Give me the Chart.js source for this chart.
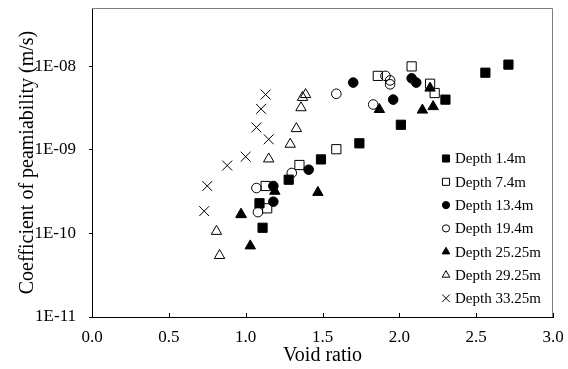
<!DOCTYPE html>
<html>
<head>
<meta charset="utf-8">
<script src="https://cdn.jsdelivr.net/npm/chart.js@4/dist/chart.umd.min.js"></script>
<style>
  html, body { margin: 0; padding: 0; background: #fff; }
  #wrap { width: 568px; height: 369px; }
</style>
</head>
<body>
<div id="wrap"><canvas id="chart" width="568" height="369"></canvas></div>
<script>
// === data ===
const seriesNames = ['Depth 1.4m', 'Depth 7.4m', 'Depth 13.4m', 'Depth 19.4m', 'Depth 25.25m', 'Depth 29.25m', 'Depth 33.25m'];

const d14X = [1.09, 1.11, 1.28, 1.49, 1.74, 2.01, 2.30, 2.56, 2.71];
const d14Y = [2.3e-10, 1.17e-10, 4.4e-10, 7.7e-10, 1.2e-9, 2.0e-9, 4.0e-9, 8.4e-9, 1.05e-8];

const d74X = [1.13, 1.14, 1.35, 1.59, 1.86, 2.08, 2.20, 2.23];
const d74Y = [3.7e-10, 2.0e-10, 6.6e-10, 1.02e-9, 7.7e-9, 1.0e-8, 6.2e-9, 4.8e-9];

const d134X = [1.18, 1.18, 1.41, 1.70, 1.96, 2.08, 2.11];
const d134Y = [3.7e-10, 2.4e-10, 5.8e-10, 6.4e-9, 4.0e-9, 7.2e-9, 6.4e-9];

const d194X = [1.07, 1.08, 1.30, 1.59, 1.83, 1.91, 1.94, 1.94];
const d194Y = [3.5e-10, 1.8e-10, 5.3e-10, 4.7e-9, 3.5e-9, 7.7e-9, 6.8e-9, 6.1e-9];

const d2525X = [0.97, 1.03, 1.19, 1.47, 1.87, 2.15, 2.22, 2.20];
const d2525Y = [1.68e-10, 7.1e-11, 3.2e-10, 3.1e-10, 3.05e-9, 3.0e-9, 3.3e-9, 5.5e-9];

const d2925X = [0.81, 0.83, 0.97, 1.15, 1.29, 1.33, 1.36, 1.37, 1.39];
const d2925Y = [1.06e-10, 5.45e-11, 1.7e-10, 7.8e-10, 1.17e-9, 1.8e-9, 3.2e-9, 4.25e-9, 4.6e-9];

const d3325X = [0.73, 0.75, 0.88, 1.00, 1.07, 1.15, 1.10, 1.13];
const d3325Y = [1.85e-10, 3.7e-10, 6.5e-10, 8.3e-10, 1.86e-9, 1.34e-9, 3.1e-9, 4.6e-9];

const yTickValues = [1e-11, 1e-10, 1e-9, 1e-8];
const yTickLabels = ['1E-11', '1E-10', '1E-09', '1E-08'];
const xMin = 0, xMax = 3, xStep = 0.5;
const yMin = 1e-11, yMax = 5e-8;

// === marker styles per series ===
const FONT = '"Liberation Serif", "Times New Roman", serif';
const CLEAR = 'rgba(0,0,0,0)';
const markers = [
  { style: 'rect',     fill: '#000', r: 6.5, lr: 5 },
  { style: 'rect',     fill: CLEAR,  r: 6.5, lr: 5 },
  { style: 'circle',   fill: '#000', r: 4.8, lr: 3.6 },
  { style: 'circle',   fill: CLEAR,  r: 4.8, lr: 3.6 },
  { style: 'triangle', fill: '#000', r: 6,   lr: 4.4 },
  { style: 'triangle', fill: CLEAR,  r: 6,   lr: 4.4 },
  { style: 'crossRot', fill: CLEAR,  r: 7,   lr: 5.4 }
];

const seriesX = [d14X, d74X, d134X, d194X, d2525X, d2925X, d3325X];
const seriesY = [d14Y, d74Y, d134Y, d194Y, d2525Y, d2925Y, d3325Y];

const datasets = seriesNames.map((name, i) => ({
  label: name,
  data: seriesX[i].map((x, j) => ({ x, y: seriesY[i][j] })),
  pointStyle: markers[i].style,
  pointRadius: markers[i].r,
  pointHoverRadius: markers[i].r,
  backgroundColor: markers[i].fill,
  borderColor: '#000',
  borderWidth: 1,
  order: seriesNames.length - i   // later series drawn on top, like the source
}));

// frame (top/right in grey) + inward x ticks
const framePlugin = {
  id: 'frame',
  afterDatasetsDraw(chart) {
    const { ctx, chartArea: a, scales } = chart;
    ctx.save();
    ctx.lineWidth = 1;
    ctx.strokeStyle = '#7f7f7f';
    ctx.beginPath();
    ctx.moveTo(a.left, a.top + 0.5);
    ctx.lineTo(a.right - 0.5, a.top + 0.5);
    ctx.lineTo(a.right - 0.5, a.bottom);
    ctx.stroke();
    ctx.strokeStyle = '#000';
    ctx.beginPath();
    for (const t of scales.x.ticks) {
      const px = Math.round(scales.x.getPixelForValue(t.value)) + 0.5;
      ctx.moveTo(px, a.bottom);
      ctx.lineTo(px, a.bottom - 4);
    }
    ctx.stroke();
    ctx.restore();
  }
};

// legend inside the plot, lower right
const legendPlugin = {
  id: 'innerLegend',
  afterDraw(chart) {
    const { ctx } = chart;
    const mx = 446, tx = 455, y0 = 158.5, dy = 23.3;
    ctx.save();
    ctx.font = '15px ' + FONT;
    ctx.textBaseline = 'middle';
    ctx.textAlign = 'left';
    seriesNames.forEach((name, i) => {
      const m = markers[i];
      const y = y0 + i * dy;
      ctx.fillStyle = m.fill;
      ctx.strokeStyle = '#000';
      ctx.lineWidth = 1;
      Chart.helpers.drawPoint(ctx, { pointStyle: m.style, radius: m.lr, borderWidth: 1, rotation: 0 }, mx, y);
      ctx.fillStyle = '#000';
      ctx.fillText(name, tx, y + 1);
    });
    ctx.restore();
  }
};

new Chart(document.getElementById('chart'), {
  type: 'scatter',
  data: { datasets },
  options: {
    responsive: false,
    animation: false,
    layout: { padding: { top: 7, right: 15, left: 0, bottom: 0 } },
    plugins: {
      legend: { display: false },
      tooltip: { enabled: false }
    },
    scales: {
      x: {
        type: 'linear',
        min: xMin, max: xMax,
        afterFit: (s) => { s.height = 52; s.paddingLeft = 0; s.paddingRight = 0; },
        grid: { drawOnChartArea: false, drawTicks: false },
        border: { color: '#000', width: 1 },
        ticks: {
          stepSize: xStep,
          color: '#000',
          padding: 10,
          font: { family: FONT, size: 17 },
          callback: (v) => Number(v).toFixed(1)
        },
        title: {
          display: true,
          text: 'Void ratio',
          color: '#000',
          font: { family: FONT, size: 20 },
          padding: { top: 0, bottom: 1 }
        }
      },
      y: {
        type: 'logarithmic',
        min: yMin, max: yMax,
        afterFit: (s) => { s.width = 92; s.paddingTop = 0; s.paddingBottom = 0; },
        afterBuildTicks: (s) => { s.ticks = yTickValues.map(v => ({ value: v })); },
        grid: { drawOnChartArea: false, drawTicks: true, tickLength: 3, color: '#000' },
        border: { color: '#000', width: 1 },
        ticks: {
          color: '#000',
          padding: 13,
          font: { family: FONT, size: 17 },
          callback: (v) => yTickLabels[yTickValues.indexOf(v)] ?? ''
        },
        title: {
          display: true,
          text: 'Coefficient of peamiability (m/s)',
          color: '#000',
          font: { family: FONT, size: 20 },
          padding: { top: 16, bottom: 0 }
        }
      }
    }
  },
  plugins: [framePlugin, legendPlugin]
});
</script>
</body>
</html>
